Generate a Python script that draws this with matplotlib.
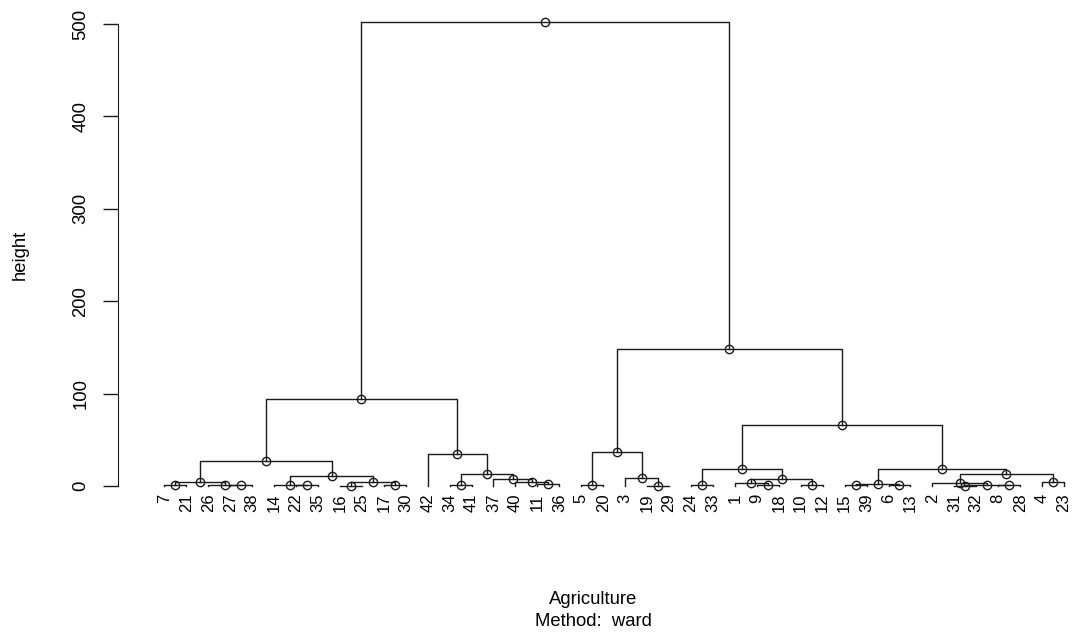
import matplotlib
matplotlib.use('Agg')
import matplotlib.pyplot as plt

plt.rcParams['font.family'] = ['Liberation Sans', 'DejaVu Sans']

# hclust-style merge table: negative = observation number, positive = earlier merge (1-based)
merge_left = [-7, -27, -26, 1, -22, -14, -16, -17, 7, 6, 4,
              -34, -11, -40, -37, 12, -42, 11,
              -5, -19, -3, 19,
              -24, -9, -1, -10, 25, 23,
              -15, -6, 29, -31, -8, 32, -2, -4, 35, 31, 28, 22, 18]
merge_right = [-21, -38, 2, 3, -35, 5, -25, -30, 8, 9, 10,
               -41, -36, 13, 14, 15, 16, 17,
               -20, -29, 20, 21,
               -33, -18, 24, -12, 26, 27,
               -39, -13, 30, -32, -28, 33, 34, -23, 36, 37, 38, 39, 40]
heights = [0.8, 0.6, 1.5, 4.5, 0.8, 1.6, 0.5, 1.0, 4.5, 10.5, 27.0,
           1.0, 1.8, 3.8, 7.5, 13.5, 34.6, 94.2,
           1.2, 0.5, 8.5, 37.0,
           1.0, 1.2, 2.8, 1.5, 7.5, 18.0,
           0.8, 0.8, 2.3, 0.5, 1.2, 1.6, 3.0, 4.5, 13.5, 18.4, 65.5, 148.3, 502.0]

fig = plt.figure(figsize=(10.76, 6.41), dpi=100)
ax = fig.add_axes([118 / 1076, 136 / 641, 952 / 1076, 501 / 641])

LINE = '#1a1a1a'
order = []


def place(k):
    if k < 0:
        order.append(-k)
        return len(order), 0.0
    xl, hl = place(merge_left[k - 1])
    xr, hr = place(merge_right[k - 1])
    h = heights[k - 1]
    ax.plot([xl, xl, xr, xr], [hl, h, h, hr], color=LINE, lw=1.0)
    xm = (xl + xr) / 2
    ax.plot(xm, h, 'o', mfc='none', mec=LINE, ms=6, mew=1.0, zorder=3)
    return xm, h


place(len(heights))

for i, lab in enumerate(order, 1):
    ax.text(i, -8, str(lab), rotation=90, ha='center', va='top', fontsize=12)

ax.set_xlim(-1.11, 42.27)
ax.set_ylim(-20.56, 521.6)

for s in ['top', 'right', 'bottom']:
    ax.spines[s].set_visible(False)
ax.spines['left'].set_bounds(0, 500)
ax.spines['left'].set_color(LINE)
ax.set_xticks([])
ax.set_yticks([0, 100, 200, 300, 400, 500])
ax.tick_params(axis='y', length=10.5, width=1, pad=10, labelsize=13.3, color=LINE)
plt.setp(ax.get_yticklabels(), rotation=90, va='center')

fig.text(20 / 1076, 1 - 255 / 641, 'height', rotation=90, ha='center', va='center', fontsize=13.3)
fig.text(593 / 1076, 1 - 600 / 641, 'Agriculture', ha='center', va='center', fontsize=13.3)
fig.text(593 / 1076, 1 - 621 / 641, 'Method:  ward', ha='center', va='center', fontsize=13.3)

fig.savefig('out.png', dpi=100)
